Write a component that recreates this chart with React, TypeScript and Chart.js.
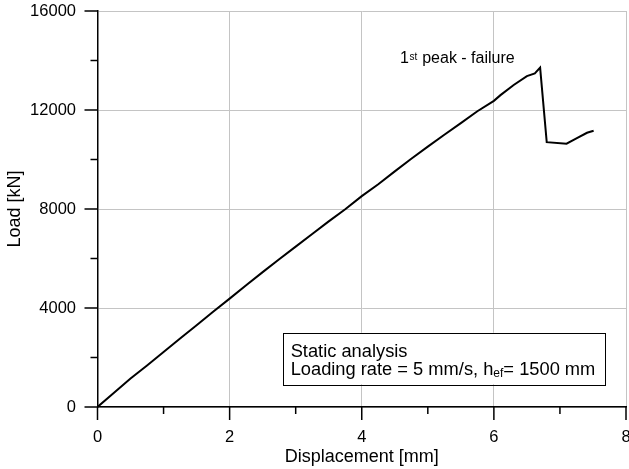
import React, { useEffect, useRef } from "react";
import { Chart, registerables } from "chart.js";

Chart.register(...registerables);

// ---- data ----
const DISPLACEMENT = [
  0, 0.25, 0.5, 0.75, 1.0, 1.25, 1.5, 1.75, 2.0, 2.25, 2.5, 2.75, 3.0, 3.25, 3.5, 3.75,
  4.0, 4.25, 4.5, 4.75, 5.0, 5.25, 5.5, 5.75, 6.0, 6.1, 6.3, 6.5, 6.62, 6.7, 6.8, 7.1,
  7.25, 7.41, 7.51,
];
const LOAD = [
  0, 580, 1150, 1680, 2220, 2770, 3300, 3850, 4380, 4920, 5450, 5970, 6480, 6990, 7500, 7990,
  8520, 9000, 9520, 10030, 10520, 11000, 11470, 11950, 12370, 12600, 13010, 13370, 13480, 13710, 10700, 10640,
  10850, 11080, 11160,
];

const X_LABELED_TICKS = [0, 2, 4, 6, 8];
const Y_LABELED_TICKS = [0, 4000, 8000, 12000, 16000];

const X_TITLE = "Displacement [mm]";
const Y_TITLE = "Load [kN]";
const PEAK_MAIN = "1";
const PEAK_SUP = "st";
const PEAK_REST = " peak - failure";
const NOTE_LINE1 = "Static analysis";
const NOTE_LINE2_A = "Loading rate = 5 mm/s, h";
const NOTE_LINE2_SUB = "ef";
const NOTE_LINE2_B = "= 1500 mm";

// annotation anchors in data coordinates
const PEAK_LABEL_AT = [4.58, 13900];
const NOTE_BOX_AT = [2.81, 3000];

const FONT = "'Liberation Sans', Arial, Helvetica, sans-serif";

const overlayPlugin = {
  id: "overlay",
  afterDraw(chart: any) {
    const { ctx, chartArea, scales } = chart;
    const xs = scales.x;
    const ys = scales.y;
    ctx.save();
    // tick marks (major longer, minor shorter), drawn outside the plot
    ctx.strokeStyle = "#000";
    ctx.lineWidth = 1.5;
    xs.ticks.forEach((t: any) => {
      const px = xs.getPixelForValue(t.value);
      const len = X_LABELED_TICKS.includes(t.value) ? 13 : 7;
      ctx.beginPath();
      ctx.moveTo(px, chartArea.bottom);
      ctx.lineTo(px, chartArea.bottom + len);
      ctx.stroke();
    });
    ys.ticks.forEach((t: any) => {
      const py = ys.getPixelForValue(t.value);
      const len = Y_LABELED_TICKS.includes(t.value) ? 13 : 7;
      ctx.beginPath();
      ctx.moveTo(chartArea.left, py);
      ctx.lineTo(chartArea.left - len, py);
      ctx.stroke();
    });

    ctx.fillStyle = "#000";
    ctx.textBaseline = "alphabetic";
    ctx.textAlign = "left";

    // peak label with superscript
    let px = xs.getPixelForValue(PEAK_LABEL_AT[0]);
    const py = ys.getPixelForValue(PEAK_LABEL_AT[1]);
    ctx.font = `16px ${FONT}`;
    ctx.fillText(PEAK_MAIN, px, py);
    px += ctx.measureText(PEAK_MAIN).width + 0.5;
    ctx.font = `10px ${FONT}`;
    ctx.fillText(PEAK_SUP, px, py - 2.5);
    px += ctx.measureText(PEAK_SUP).width + 0.5;
    ctx.font = `16px ${FONT}`;
    ctx.fillText(PEAK_REST, px, py);

    // note box
    const bx = xs.getPixelForValue(NOTE_BOX_AT[0]);
    const by = ys.getPixelForValue(NOTE_BOX_AT[1]);
    ctx.font = `18.3px ${FONT}`;
    const w1 = ctx.measureText(NOTE_LINE1).width;
    const wa = ctx.measureText(NOTE_LINE2_A).width;
    const wb = ctx.measureText(NOTE_LINE2_B).width;
    ctx.font = `12px ${FONT}`;
    const ws = ctx.measureText(NOTE_LINE2_SUB).width;
    const textW = Math.max(w1, wa + ws + wb);
    const padL = 7.5;
    const padR = 10;
    const boxW = padL + textW + padR;
    const boxH = 51.5;
    ctx.fillStyle = "#fff";
    ctx.fillRect(bx, by, boxW, boxH);
    ctx.strokeStyle = "#000";
    ctx.lineWidth = 1;
    ctx.strokeRect(Math.round(bx) + 0.5, Math.round(by) + 0.5, Math.round(boxW), Math.round(boxH));
    ctx.fillStyle = "#000";
    const tx = bx + padL;
    ctx.font = `18.3px ${FONT}`;
    ctx.fillText(NOTE_LINE1, tx, by + 24);
    ctx.fillText(NOTE_LINE2_A, tx, by + 42.3);
    ctx.font = `12px ${FONT}`;
    ctx.fillText(NOTE_LINE2_SUB, tx + wa, by + 44.6);
    ctx.font = `18.3px ${FONT}`;
    ctx.fillText(NOTE_LINE2_B, tx + wa + ws, by + 42.3);
    ctx.restore();
  },
};

export default function App() {
  const ref = useRef<HTMLCanvasElement | null>(null);

  useEffect(() => {
    if (!ref.current) return;
    Chart.defaults.font.family = FONT;
    Chart.defaults.color = "#000";
    const points = DISPLACEMENT.map((d, i) => ({ x: d, y: LOAD[i] }));
    const gridColor = (c: any) =>
      c.tick && X_LABELED_TICKS.includes(c.tick.value) ? "#c4c4c4" : "rgba(0,0,0,0)";
    const gridColorY = (c: any) =>
      c.tick && Y_LABELED_TICKS.includes(c.tick.value) ? "#c4c4c4" : "rgba(0,0,0,0)";
    const chart = new Chart(ref.current, {
      type: "line",
      data: {
        datasets: [
          {
            data: points,
            borderColor: "#000",
            borderWidth: 2,
            pointRadius: 0,
            tension: 0,
            fill: false,
          },
        ],
      },
      options: {
        responsive: false,
        animation: false,
        devicePixelRatio: 1,
        layout: { padding: { top: 11, right: 3, left: 0, bottom: 0 } },
        plugins: { legend: { display: false }, tooltip: { enabled: false } },
        scales: {
          x: {
            type: "linear",
            min: 0,
            max: 8,
            ticks: {
              stepSize: 1,
              autoSkip: false,
              maxRotation: 0,
              padding: 20.2,
              font: { size: 16.5 },
              color: "#000",
              callback: (v: any) => (X_LABELED_TICKS.includes(Number(v)) ? String(v) : ""),
            },
            grid: { color: gridColor, lineWidth: 1, drawTicks: false },
            border: { display: true, color: "#000", width: 1.5 },
            title: {
              display: true,
              text: X_TITLE,
              font: { size: 18 },
              color: "#000",
              padding: { top: 0, bottom: 1.1 },
            },
            afterFit: (s: any) => {
              s.height = 62;
              s.paddingLeft = 0;
              s.paddingRight = 0;
            },
          },
          y: {
            type: "linear",
            min: 0,
            max: 16000,
            ticks: {
              stepSize: 2000,
              autoSkip: false,
              padding: 21.5,
              font: { size: 16.5 },
              color: "#000",
              callback: (v: any) => (Y_LABELED_TICKS.includes(Number(v)) ? String(v) : ""),
            },
            grid: { color: gridColorY, lineWidth: 1, drawTicks: false },
            border: { display: true, color: "#000", width: 1.5 },
            title: {
              display: true,
              text: Y_TITLE,
              font: { size: 18 },
              color: "#000",
              padding: { top: 4.5, bottom: 0 },
            },
            afterFit: (s: any) => {
              s.width = 97.5;
              s.paddingTop = 0;
              s.paddingBottom = 0;
            },
          },
        },
      },
      plugins: [overlayPlugin],
    });
    return () => chart.destroy();
  }, []);

  return (
    <div style={{ position: "fixed", left: 0, top: 0, width: 629, height: 469, background: "#fff" }}>
      <canvas ref={ref} width={629} height={469} style={{ display: "block" }} />
    </div>
  );
}
